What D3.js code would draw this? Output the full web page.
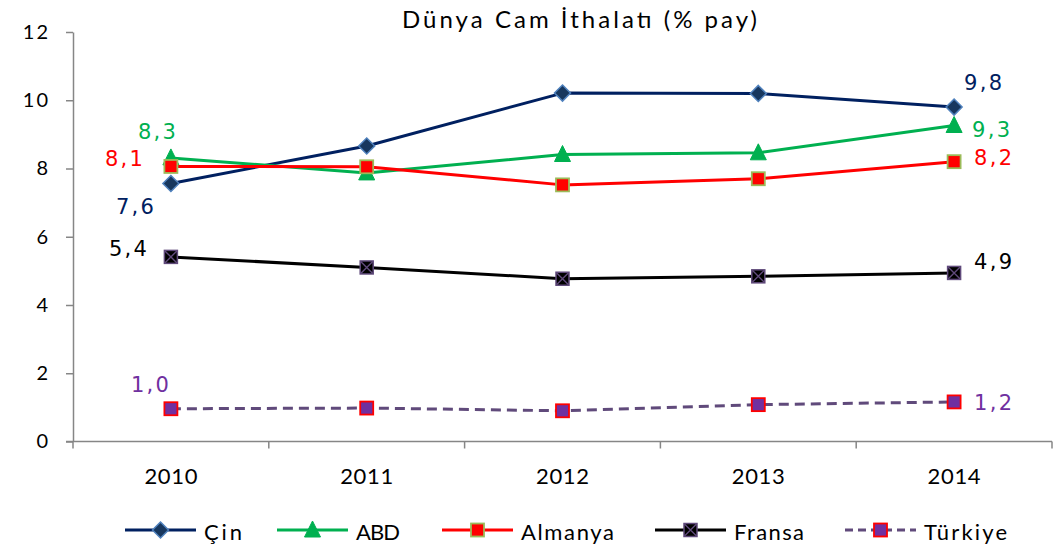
<!DOCTYPE html>
<html><head><meta charset="utf-8">
<script src="https://cdn.jsdelivr.net/npm/d3@7"></script>
<style>body{margin:0;background:#fff}</style>
</head><body><svg id="c" width="1062" height="547"></svg>
<script>
const years = ["2010","2011","2012","2013","2014"];
const yTicks = [0,2,4,6,8,10,12];
const cin     = [7.56, 8.66, 10.21, 10.20, 9.80];
const abd     = [8.31, 7.87, 8.41, 8.46, 9.26];
const almanya = [8.06, 8.05, 7.52, 7.70, 8.20];
const fransa  = [5.41, 5.10, 4.77, 4.84, 4.94];
const turkiye = [0.96, 0.98, 0.90, 1.08, 1.16];
const seriesNames = ["Çin","ABD","Almanya","Fransa","Türkiye"];
const title = "Dünya Cam İthalatı (% pay)";

const styles = {
  "Çin":    {line:"#002060", dash:null, marker:"diamond", fill:"#17375E", stroke:"#4F81BD", label:"#002060",
             lab:[{i:0,dx:-36,dy:23},{i:4,dx:29,dy:-24}]},
  "ABD":    {line:"#00B050", dash:null, marker:"triangle", fill:"#00B050", stroke:"#00B050", label:"#00B050",
             lab:[{i:0,dx:-14,dy:-26},{i:4,dx:37,dy:4}]},
  "Almanya":{line:"#FF0000", dash:null, marker:"square", fill:"#FF0000", stroke:"#9BBB59", label:"#FF0000",
             lab:[{i:0,dx:-47,dy:-7},{i:4,dx:39,dy:-4}]},
  "Fransa": {line:"#000000", dash:null, marker:"xsquare", fill:"#000000", stroke:"#604A7B", label:"#000000",
             lab:[{i:0,dx:-43,dy:-8},{i:4,dx:39,dy:-11}]},
  "Türkiye":{line:"#604A7B", dash:"10,6", marker:"square", fill:"#7030A0", stroke:"#FF0000", label:"#7030A0",
             lab:[{i:0,dx:-21,dy:-24},{i:4,dx:39,dy:1}]}
};
const data = [cin, abd, almanya, fransa, turkiye];

const svg = d3.select("#c");
const L = 73, R = 1052, T = 32, B = 441.5;
const x = d3.scaleBand().domain(years).range([L, R]);
const y = d3.scaleLinear().domain([0, 12]).range([B, T]);
const fmt = v => d3.format(".1f")(v).replace(".", ",");
const uiFont = "Lato, 'Open Sans', sans-serif";
const numFont = "'DejaVu Sans', sans-serif";

svg.append("text").attr("x", 579.5).attr("y", 28).attr("text-anchor","middle")
  .attr("font-family", uiFont).attr("font-size", 24)
  .attr("textLength", 355).attr("lengthAdjust","spacing")
  .attr("fill","#000").text(title);

// y axis
const ya = svg.append("g").attr("transform",`translate(${L},0)`)
  .call(d3.axisLeft(y).tickValues(yTicks).tickSize(7).tickPadding(16).tickSizeOuter(0));
ya.attr("font-family", uiFont).attr("font-size", 20);
ya.select(".domain").attr("stroke","#868686").attr("stroke-width",1.5);
ya.selectAll(".tick line").attr("stroke","#868686").attr("stroke-width",1.5);
ya.selectAll(".tick text").attr("fill","#000").style("letter-spacing","2px");

// x axis
const xa = svg.append("g").attr("transform",`translate(0,${B})`)
  .call(d3.axisBottom(x).tickSize(0).tickPadding(26.5).tickSizeOuter(0));
xa.attr("font-family", uiFont).attr("font-size", 22);
xa.select(".domain").remove();
xa.selectAll(".tick text").attr("fill","#000").attr("textLength", 53).attr("lengthAdjust","spacing");
svg.append("line").attr("x1",L-7).attr("x2",R).attr("y1",B).attr("y2",B).attr("stroke","#868686").attr("stroke-width",1.5);
const edges = years.map(d => x(d)).concat([x.range()[1]]);
svg.selectAll(".xt").data(edges).enter().append("line")
  .attr("x1",d=>d).attr("x2",d=>d).attr("y1",B).attr("y2",B+7).attr("stroke","#868686").attr("stroke-width",1.5);

function drawMarker(g, type, cx, cy, st){
  if(type==="diamond"){
    g.append("path").attr("d",`M${cx},${cy-8}L${cx+8},${cy}L${cx},${cy+8}L${cx-8},${cy}Z`)
      .attr("fill",st.fill).attr("stroke",st.stroke).attr("stroke-width",1.5);
  } else if(type==="triangle"){
    g.append("path").attr("d",`M${cx},${cy-9}L${cx+8},${cy+7}L${cx-8},${cy+7}Z`)
      .attr("fill",st.fill).attr("stroke",st.stroke).attr("stroke-width",1);
  } else if(type==="square"){
    g.append("rect").attr("x",cx-6.5).attr("y",cy-6.5).attr("width",13).attr("height",13)
      .attr("fill",st.fill).attr("stroke",st.stroke).attr("stroke-width",1.8);
  } else if(type==="xsquare"){
    g.append("rect").attr("x",cx-6.5).attr("y",cy-6.5).attr("width",13).attr("height",13)
      .attr("fill",st.fill).attr("stroke",st.stroke).attr("stroke-width",1.5);
    g.append("path").attr("d",`M${cx-6},${cy-6}L${cx+6},${cy+6}M${cx+6},${cy-6}L${cx-6},${cy+6}`)
      .attr("stroke",st.stroke).attr("stroke-width",1.4);
  }
}

const line = d3.line().x((d,i)=>x(years[i])+x.bandwidth()/2).y(d=>y(d));
seriesNames.forEach((name, si) => {
  const st = styles[name], vals = data[si];
  const g = svg.append("g");
  g.append("path").datum(vals).attr("d", line).attr("fill","none").attr("stroke", st.line)
    .attr("stroke-width",3).attr("stroke-dasharray", st.dash).attr("stroke-linejoin","round");
  vals.forEach((v,i)=>drawMarker(g, st.marker, x(years[i])+x.bandwidth()/2, y(v), st));
  st.lab.forEach(l => {
    g.append("text").attr("x", x(years[l.i])+x.bandwidth()/2 + l.dx).attr("y", y(vals[l.i]) + l.dy)
      .attr("text-anchor","middle").attr("dominant-baseline","central")
      .attr("font-family", numFont).attr("font-size", 21).attr("textLength", 38).attr("lengthAdjust","spacing")
      .attr("fill", st.label).text(fmt(vals[l.i]));
  });
});

// legend
const legX = [125, 277, 442, 655, 845];
const legW = [38, 44, 93, 70, 83];
const legY = 530;
seriesNames.forEach((name, si) => {
  const st = styles[name];
  const g = svg.append("g");
  const x0 = legX[si];
  g.append("line").attr("x1",x0).attr("x2",x0+71).attr("y1",legY).attr("y2",legY)
    .attr("stroke",st.line).attr("stroke-width",3).attr("stroke-dasharray", st.dash ? "8,5" : null);
  drawMarker(g, st.marker, x0+35.5, legY, st);
  g.append("text").attr("x", x0+79).attr("y", legY+1).attr("dominant-baseline","central")
    .attr("font-family", uiFont).attr("font-size", 22)
    .attr("textLength", legW[si]).attr("lengthAdjust","spacing")
    .attr("fill","#000").text(name);
});
</script></body></html>
